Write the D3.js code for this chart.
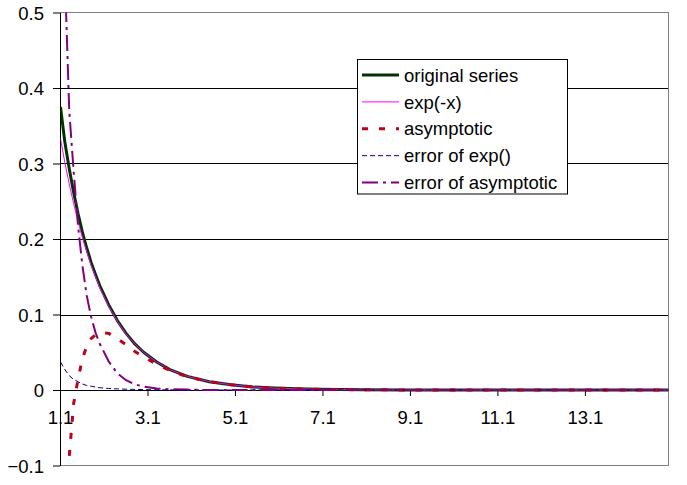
<!DOCTYPE html>
<html>
<head>
<meta charset="utf-8">
<script src="https://cdn.jsdelivr.net/npm/d3@7"></script>
<style>
  body { margin: 0; background: #fff; }
  text { font-family: "Liberation Sans", Arial, sans-serif; font-size: 18.5px; fill: #000; }
</style>
</head>
<body>
<div class="canvas"></div>
<script>
// data
const xs = [1.1, 1.2, 1.3, 1.4, 1.5, 1.6, 1.7, 1.8, 1.9, 2.0, 2.2, 2.4, 2.6, 2.8, 3.0, 3.3, 3.6, 4.0, 4.5, 5.0, 5.5, 6.0, 6.5, 7.0, 8.0, 9.0, 10.0, 11.0, 12.0, 13.0, 14.0, 15.0];
const original = [0.375, 0.328, 0.293, 0.262, 0.234, 0.209, 0.188, 0.169, 0.153, 0.138, 0.113, 0.092, 0.075, 0.061, 0.050, 0.037, 0.027, 0.018, 0.011, 0.007, 0.004, 0.0025, 0.0015, 0.001, 0.0003, 0.0001, 0, 0, 0, 0, 0, 0];
const expx = [0.333, 0.301, 0.273, 0.247, 0.223, 0.202, 0.183, 0.165, 0.150, 0.135, 0.111, 0.091, 0.074, 0.061, 0.050, 0.037, 0.027, 0.018, 0.011, 0.007, 0.004, 0.0025, 0.0015, 0.001, 0.0003, 0.0001, 0, 0, 0, 0, 0, 0];
const asymptotic = [-0.83, -0.22, -0.088, -0.018, 0.014, 0.041, 0.058, 0.068, 0.073, 0.076, 0.075, 0.068, 0.060, 0.051, 0.044, 0.034, 0.026, 0.0175, 0.011, 0.007, 0.004, 0.0025, 0.0015, 0.001, 0.0003, 0.0001, 0, 0, 0, 0, 0, 0];
const errExp = [0.037, 0.027, 0.019, 0.014, 0.011, 0.008, 0.006, 0.005, 0.004, 0.003, 0.002, 0.0015, 0.001, 0.0008, 0.0005, 0.0003, 0.0002, 0.0001, 0, 0, 0, 0, 0, 0, 0, 0, 0, 0, 0, 0, 0, 0];
const errAsym = [1.2, 0.55, 0.37, 0.29, 0.218, 0.165, 0.125, 0.097, 0.076, 0.061, 0.038, 0.022, 0.013, 0.0075, 0.0045, 0.002, 0.001, 0.0005, 0, 0, 0, 0, 0, 0, 0, 0, 0, 0, 0, 0, 0, 0];
const xTicks = [1.1, 3.1, 5.1, 7.1, 9.1, 11.1, 13.1];
const yTicks = [-0.1, 0, 0.1, 0.2, 0.3, 0.4, 0.5];

const seriesNames = ['original series', 'exp(-x)', 'asymptotic', 'error of exp()', 'error of asymptotic'];
const seriesValues = [original, expx, asymptotic, errExp, errAsym];
const seriesStyle = [
  {color: '#003300', width: 3, dash: null},
  {color: '#ff00ff', width: 1, dash: null},
  {color: '#c00018', width: 3, dash: '6,11'},
  {color: '#000080', width: 1, dash: '5,3'},
  {color: '#800080', width: 2, dash: '16,5,3,5'}
];

const width = 687, height = 485;
const plot = {left: 60.5, right: 668.5, top: 12.5, bottom: 465.5};

const svg = d3.select('.canvas').append('svg')
    .attr('width', width)
    .attr('height', height);

svg.append('rect').attr('width', width).attr('height', height).attr('fill', '#fff');

// scales
const x = d3.scaleLinear().domain([1.1, 15.0]).range([plot.left, plot.right]);
const y = d3.scaleLinear().domain([-0.1, 0.5]).range([plot.bottom, plot.top]);

// gridlines
svg.append('g')
  .selectAll('line')
  .data(yTicks.filter(d => d > 0 && d < 0.5))
  .join('line')
    .attr('x1', plot.left).attr('x2', plot.right)
    .attr('y1', d => Math.round(y(d)) + 0.5).attr('y2', d => Math.round(y(d)) + 0.5)
    .attr('stroke', '#000').attr('stroke-width', 1);

// plot border (grey)
svg.append('rect')
    .attr('x', plot.left).attr('y', plot.top)
    .attr('width', plot.right - plot.left).attr('height', plot.bottom - plot.top)
    .attr('fill', 'none').attr('stroke', '#808080');

// y axis
const yAxis = d3.axisLeft(y).tickValues(yTicks).tickSize(7).tickSizeOuter(0).tickPadding(9)
    .tickFormat(d => d3.format('')(+d.toFixed(1)));
const yAxisGroup = svg.append('g')
    .attr('transform', `translate(${plot.left - 0.5}, 0)`)
    .call(yAxis);
yAxisGroup.select('.domain').attr('stroke', '#000');
yAxisGroup.selectAll('.tick line').attr('stroke', '#000');
yAxisGroup.selectAll('text').attr('font-size', null).attr('font-family', null).attr('dy', '0.36em');

// x axis at y = 0
const xAxis = d3.axisBottom(x).tickValues(xTicks).tickSize(6).tickSizeOuter(0).tickPadding(15)
    .tickFormat(d3.format('.1f'));
const xAxisGroup = svg.append('g')
    .attr('transform', `translate(-0.5, ${Math.round(y(0))})`)
    .call(xAxis);
xAxisGroup.select('.domain').attr('stroke', '#000');
xAxisGroup.selectAll('.tick line').attr('stroke', '#000');
xAxisGroup.selectAll('text').attr('font-size', null).attr('font-family', null);

// clip
svg.append('clipPath').attr('id', 'clip')
  .append('rect')
    .attr('x', plot.left).attr('y', plot.top)
    .attr('width', plot.right - plot.left).attr('height', plot.bottom - plot.top);

const line = d3.line()
    .x((d, i) => x(xs[i]))
    .y(d => y(d));

const lines = svg.append('g').attr('clip-path', 'url(#clip)');
seriesValues.forEach((vals, i) => {
  const s = seriesStyle[i];
  lines.append('path')
      .datum(vals)
      .attr('d', line)
      .attr('fill', 'none')
      .attr('stroke', s.color)
      .attr('stroke-width', s.width)
      .attr('stroke-dasharray', s.dash)
      .attr('stroke-linejoin', 'round');
});

// legend
const legend = svg.append('g');
legend.append('rect')
    .attr('x', 357.5).attr('y', 59.5).attr('width', 210).attr('height', 134.5)
    .attr('fill', '#fff').attr('stroke', '#000');

const legendItems = legend.selectAll('g.item')
  .data(seriesNames)
  .join('g')
    .attr('class', 'item')
    .attr('transform', (d, i) => `translate(0, ${75 + i * 26.9})`);

legendItems.append('line')
    .attr('x1', 362).attr('x2', 399)
    .attr('stroke', (d, i) => seriesStyle[i].color)
    .attr('stroke-width', (d, i) => seriesStyle[i].width)
    .attr('stroke-dasharray', (d, i) => seriesStyle[i].dash);

legendItems.append('text')
    .attr('x', 404).attr('dy', '0.36em')
    .text(d => d);
</script>
</body>
</html>
